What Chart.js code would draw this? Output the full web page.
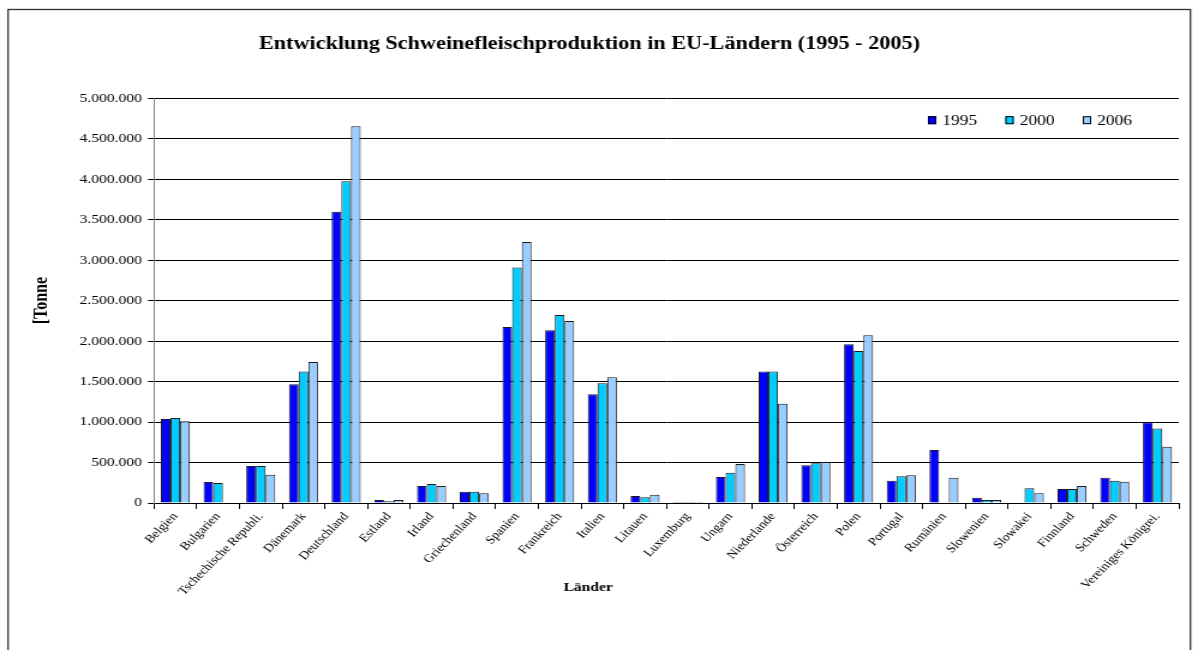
<!DOCTYPE html>
<html lang="de">
<head>
<meta charset="utf-8">
<title>Schweinefleischproduktion in EU-Ländern</title>
<script src="https://cdn.jsdelivr.net/npm/chart.js@4/dist/chart.umd.min.js"></script>
<style>
  html, body { margin: 0; padding: 0; background: #fff; overflow: hidden; }
  /* the chart is drawn on a narrower canvas and widened, giving the broad serif lettering */
  #wrap { width: 998px; height: 650px; transform: scaleX(1.2004); transform-origin: 0 0; }
  canvas { display: block; }
</style>
</head>
<body>
<div id="wrap"><canvas id="chart" width="998" height="650"></canvas></div>
<script>
// Länder (Kategorien)
const laender = [
  'Belgien', 'Bulgarien', 'Tschechische Republi.', 'Dänemark', 'Deutschland', 'Estland',
  'Irland', 'Griechenland', 'Spanien', 'Frankreich', 'Italien', 'Litauen', 'Luxemburg',
  'Ungarn', 'Niederlande', 'Österreich', 'Polen', 'Portugal', 'Rumänien', 'Slowenien',
  'Slowakei', 'Finnland', 'Schweden', 'Vereiniges Königrei.'
];

// Jahre (Reihen)
const jahre = ['1995', '2000', '2006'];

// Produktion in Tonnen, je Land
const werte1995 = [1038000, 259000, 457000, 1467000, 3596000, 37000, 210000, 140000, 2175000, 2134000,
  1343000, 86000, 13000, 321000, 1623000, 466000, 1961000, 276000, 655000, 66000, null, 173000, 313000, 997000];
const werte2000 = [1050000, 247000, 457000, 1623000, 3975000, 21000, 235000, 140000, 2908000, 2323000,
  1479000, 70000, 13000, 375000, 1623000, 490000, 1878000, 329000, null, 37000, 181000, 173000, 276000, 919000];
const werte2006 = [1009000, null, 350000, 1742000, 4655000, 37000, 210000, 119000, 3225000, 2249000,
  1553000, 103000, 13000, 482000, 1227000, 507000, 2072000, 342000, 313000, 37000, 119000, 210000, 264000, 696000];

// Achsenbeschriftung
const yMax = 5000000;
const yStep = 500000;

const titelText = 'Entwicklung Schweinefleischproduktion in EU-Ländern (1995 - 2005)';
const yTitelText = '[Tonne';
const xTitelText = 'Länder';

const farben = ['#0000FF', '#00CCFF', '#99CCFF'];
const serif = "'Liberation Serif', 'Times New Roman', serif";

function tausender(v) {
  return String(Math.round(v)).replace(/\B(?=(\d{3})+(?!\d))/g, '.');
}

// Rahmen um das Diagramm
const rahmen = {
  id: 'rahmen',
  beforeDraw(chart) {
    const ctx = chart.ctx;
    ctx.save();
    ctx.fillStyle = '#fff';
    ctx.fillRect(0, 0, chart.width, chart.height);
    ctx.strokeStyle = '#333';
    ctx.lineWidth = 1.3;
    ctx.strokeRect(6.7, 9.5, 985, 700);
    ctx.restore();
  }
};

// Legende oben rechts im Zeichenbereich und Titel der Kategorienachse
const beschriftung = {
  id: 'beschriftung',
  afterDraw(chart) {
    const ctx = chart.ctx;
    const area = chart.chartArea;
    ctx.save();
    ctx.font = '14.5px ' + serif;
    ctx.textBaseline = 'middle';
    ctx.textAlign = 'left';
    const y = area.top + 22;
    let x = area.right - 209;
    chart.data.datasets.forEach((ds) => {
      ctx.fillStyle = ds.backgroundColor;
      ctx.fillRect(x, y - 4, 7, 8);
      ctx.strokeStyle = '#000';
      ctx.lineWidth = 1;
      ctx.strokeRect(x + 0.5, y - 3.5, 6, 7);
      ctx.fillStyle = '#000';
      ctx.fillText(ds.label, x + 12, y + 1);
      x += 64.5;
    });
    ctx.font = 'bold 13px ' + serif;
    ctx.textAlign = 'center';
    ctx.fillText(xTitelText, 490, 588);
    ctx.restore();
  }
};

new Chart(document.getElementById('chart'), {
  type: 'bar',
  data: {
    labels: laender,
    datasets: [
      { label: jahre[0], data: werte1995, backgroundColor: farben[0] },
      { label: jahre[1], data: werte2000, backgroundColor: farben[1] },
      { label: jahre[2], data: werte2006, backgroundColor: farben[2] }
    ].map(ds => Object.assign(ds, {
      borderColor: '#1a1a1a',
      borderWidth: 1,
      categoryPercentage: 0.68,
      barPercentage: 1.0
    }))
  },
  options: {
    responsive: false,
    animation: false,
    devicePixelRatio: 1,
    layout: { padding: { left: 0, right: 16, top: 0, bottom: 0 } },
    plugins: {
      legend: { display: false },
      tooltip: { enabled: false },
      title: {
        display: true,
        text: titelText,
        color: '#000',
        font: { family: serif, size: 18.5, weight: 'bold' },
        padding: { top: 33, bottom: 43 }
      }
    },
    scales: {
      x: {
        grid: { display: true, drawOnChartArea: false, drawTicks: true, tickLength: 6, color: '#000', offset: true },
        border: { color: '#000', width: 1 },
        ticks: {
          autoSkip: false, minRotation: 50, maxRotation: 50, color: '#000', padding: 1,
          font: { family: serif, size: 11.5 }
        },
        afterFit(scale) { scale.height = 147; }
      },
      y: {
        min: 0,
        max: yMax,
        grid: { color: '#000', lineWidth: 1, tickLength: 5 },
        border: { color: '#808080', width: 1 },
        ticks: {
          stepSize: yStep, color: '#000', padding: 5,
          font: { family: serif, size: 13 },
          callback: (v) => tausender(v)
        },
        title: {
          display: true,
          text: yTitelText,
          color: '#000',
          font: { family: serif, size: 16, weight: 'bold' },
          padding: { top: 25, bottom: 0 }
        },
        afterFit(scale) { scale.width = 128.3; }
      }
    }
  },
  plugins: [rahmen, beschriftung]
});
</script>
</body>
</html>
